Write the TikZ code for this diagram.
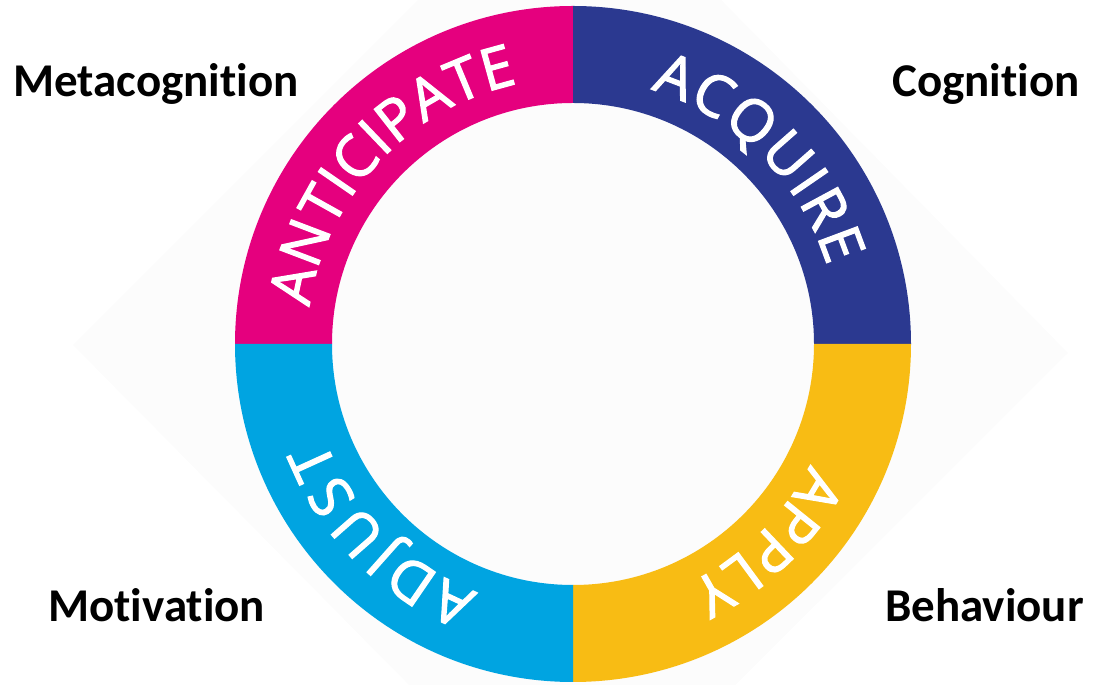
\documentclass[tikz,border=0pt]{standalone}
\usepackage{fontspec}
\setmainfont{Carlito}[Ligatures=CommonOff]
\newfontfamily\ringfont{Open Sans}[FakeBold=2]
\usepackage{tikz}
\usetikzlibrary{decorations.text}

\definecolor{antmag}{HTML}{E5007E}
\definecolor{acqblue}{HTML}{2B3990}
\definecolor{appyel}{HTML}{F8BC14}
\definecolor{adjcyan}{HTML}{00A4E1}

\tikzset{
  corner/.style={font=\fontsize{47}{50}\selectfont\bfseries, inner sep=0pt},
  ringtext/.style={decorate, decoration={text along path, text={|\ringfont\fontsize{58}{58}\selectfont|#1}, text align=fit to path, text color=white}}
}

\newcommand{\ringpart}[3]{%
  \fill[#1] (#2:338) arc[start angle=#2, end angle=#3, radius=338]
    -- (#3:241) arc[start angle=#3, end angle=#2, radius=241] -- cycle;}

\begin{document}
\begin{tikzpicture}[x=1pt,y=1pt]
  \useasboundingbox (0,0) rectangle (1093,685);
  \clip (0,0) rectangle (1093,685);
  % faint backdrop
  \fill[black!1] (73,340) -- (571,838) -- (1068,332) -- (571,-164) -- cycle;

  \begin{scope}[shift={(573,341)}]
    \ringpart{antmag}{90}{180}
    \ringpart{acqblue}{0}{90}
    \ringpart{appyel}{-90}{0}
    \ringpart{adjcyan}{180}{270}

    \path[ringtext=ANTICIPATE] (172:266) arc[start angle=172, end angle=102, radius=266];
    \path[ringtext=ACQUIRE] (73:266) arc[start angle=73, end angle=17, radius=266];
    \path[ringtext=APPLY] (-27:266) arc[start angle=-27, end angle=-64, radius=266];
    \path[ringtext=ADJUST] (249:266) arc[start angle=249, end angle=201, radius=266];
  \end{scope}

  \draw (13,588) node[corner, anchor=base west] (meta) {Metacognition};
  \draw (1080,588) node[corner, anchor=base east] (cog) {Cognition};
  \draw (48,63) node[corner, anchor=base west] (motiv) {Motivation};
  \draw (1084,63) node[corner, anchor=base east] (behav) {Behaviour};
\end{tikzpicture}
\end{document}
